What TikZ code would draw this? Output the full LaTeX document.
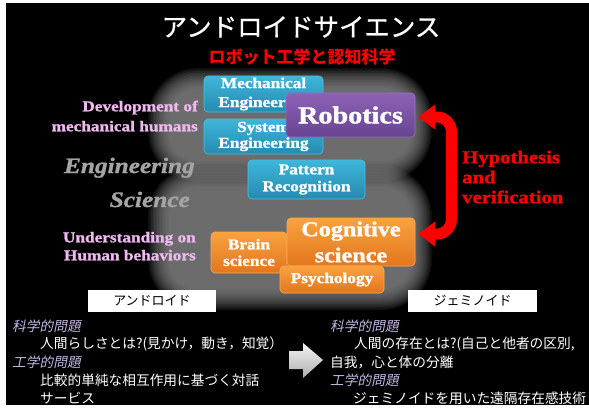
\documentclass[tikz,border=0pt]{standalone}
\usepackage{fontspec}
\setmainfont{Liberation Serif}[FakeStretch=1.15, BoldFeatures={FakeBold=1.3}, BoldItalicFeatures={FakeBold=1.3}]
\newfontfamily\jp{Noto Sans CJK JP}
\newfontfamily\jpt{Noto Sans CJK JP}[FakeBold=0.8]
\newfontfamily\jpit{Noto Sans CJK JP}[FakeSlant=0.2]
\usetikzlibrary{arrows.meta}
\definecolor{tealtop}{RGB}{62,182,218}
\definecolor{tealbot}{RGB}{38,138,176}
\definecolor{tealedge}{RGB}{80,190,225}
\definecolor{purtop}{RGB}{142,98,182}
\definecolor{purbot}{RGB}{102,68,144}
\definecolor{puredge}{RGB}{150,110,190}
\definecolor{orgtop}{RGB}{250,162,62}
\definecolor{orgbot}{RGB}{226,118,30}
\definecolor{orgedge}{RGB}{250,170,80}
\definecolor{pinklab}{RGB}{240,184,240}
\definecolor{lav}{RGB}{196,182,228}
\definecolor{glowc}{RGB}{140,140,140}
\definecolor{greylab}{RGB}{165,165,165}
\begin{document}
\begin{tikzpicture}[x=1pt,y=-1pt,
  box/.style={rounded corners=4pt, inner sep=0pt, align=center, text=white,
    font=\bfseries\fontsize{15}{17}\selectfont},
  tealbox/.style={box, top color=tealtop, bottom color=tealbot, draw=tealedge, line width=0.6pt},
  purbox/.style={box, top color=purtop, bottom color=purbot, draw=puredge, line width=0.6pt},
  orgbox/.style={box, top color=orgtop, bottom color=orgbot, draw=orgedge, line width=0.6pt},
  pinktext/.style={inner sep=0pt, align=right, text=pinklab, font=\bfseries\fontsize{15}{20}\selectfont},
  greytext/.style={inner sep=0pt, text=greylab, font=\bfseries\itshape\fontsize{22}{24}\selectfont},
  labbox/.style={fill=white, inner sep=0pt, minimum height=22pt, text=black, font=\jp\fontsize{13}{15}\selectfont},
  qtext/.style={inner sep=0pt, anchor=west, text=lav, font=\jpit\fontsize{13.7}{16}\selectfont},
  btext/.style={inner sep=0pt, anchor=west, text=white, font=\jp\fontsize{13.7}{16}\selectfont},
  redarrow/.style={line width=11pt, red, rounded corners=14pt,
    {Triangle[width=24pt,length=17pt]}-{Triangle[width=24pt,length=17pt]}}
]
\useasboundingbox (0,0) rectangle (589,407);
\fill[white] (0,0) rectangle (589,407);
\fill[black] (6,3) rectangle (589,405);

% soft glow
\foreach \i in {0,...,14} {
  \pgfmathsetmacro\rr{50-1.5*\i}
  \fill[glowc, fill opacity=0.1, rounded corners=\rr pt]
    ({148+1.5*\i},{68+1.5*\i}) rectangle ({432-1.5*\i},{182-1.5*\i});
  \fill[glowc, fill opacity=0.1, rounded corners=\rr pt]
    ({148+1.5*\i},{166+1.5*\i}) rectangle ({432-1.5*\i},{310-1.5*\i});
}

% titles
\node[inner sep=0pt, text=white, font=\jpt\fontsize{25.5}{28}\selectfont] (title) at (301,27) {アンドロイドサイエンス};
\node[inner sep=0pt, text=red, font=\jp\bfseries\fontsize{17}{19}\selectfont] (subtitle) at (302,57) {ロボット工学と認知科学};

% left labels
\node[pinktext, anchor=north east] (dev) at (198,100.5) {Development of\\mechanical humans};
\node[greytext, anchor=base east] (eng) at (195,173) {Engineering};
\node[greytext, anchor=base east] (sci) at (190,207) {Science};
\node[pinktext, anchor=north east, font=\bfseries\fontsize{15}{18}\selectfont] (und) at (196,231.7) {Understanding on\\Human behaviors};

% engineering boxes
\node[tealbox, minimum width=119pt, minimum height=36pt, font=\bfseries\fontsize{15}{19}\selectfont] (mech) at (263.5,94) {Mechanical\\Engineering};
\node[tealbox, minimum width=119pt, minimum height=35pt, font=\bfseries\fontsize{15}{16}\selectfont] (sys) at (263.5,136.5) {System\\Engineering};
\node[tealbox, minimum width=117pt, minimum height=39pt] (pat) at (306.5,179.5) {Pattern\\Recognition};
\node[purbox, minimum width=129pt, minimum height=44pt, font=\bfseries\fontsize{24.5}{26}\selectfont] (rob) at (350.5,115) {Robotics};

% science boxes
\node[orgbox, minimum width=76pt, minimum height=41pt, font=\bfseries\fontsize{15}{16.5}\selectfont] (brain) at (249,252.5) {Brain\\science};
\node[orgbox, minimum width=128pt, minimum height=48pt, font=\bfseries\fontsize{21}{26}\selectfont] (cog) at (351,242) {Cognitive\\science};
\node[orgbox, minimum width=104pt, minimum height=27pt] (psy) at (332,279.5) {Psychology};

% hypothesis arrow
\draw[redarrow] ([shift={(3pt,-2pt)}]rob.east) -- ++(33pt,0pt) -- ++(0pt,-117pt) -- ([shift={(3pt,8pt)}]cog.east);
\node[inner sep=0pt, anchor=north west, align=left, text=red, font=\bfseries\fontsize{18}{20}\selectfont] (hyp) at (462,150.5) {Hypothesis\\and\\verification};

% bottom part
\node[labbox, minimum width=128pt] (andl) at (152,301) {アンドロイド};
\node[labbox, minimum width=129pt] (geml) at (472.5,301) {ジェミノイド};

\node[qtext] (lq1) at (12,326) {科学的問題};
\node[btext] (lt1) at (40,344) {人間らしさとは?(見かけ，動き，知覚）};
\node[qtext] (lq2) at (12,362) {工学的問題};
\node[btext] (lt2) at (40,380) {比較的単純な相互作用に基づく対話};
\node[btext] (lt3) at (40,398) {サービス};

\node[qtext] (rq1) at (330,326) {科学的問題};
\node[btext] (rt1) at (354,344) {人間の存在とは?(自己と他者の区別,};
\node[btext] (rt2) at (330,362) {自我，心と体の分離};
\node[qtext] (rq2) at (330,380) {工学的問題};
\node[btext] (rt3) at (353,398) {ジェミノイドを用いた遠隔存在感技術};

\shade[top color=white!96!black, bottom color=black!32]
  (289,351) -- (303,351) -- (303,343) -- (323,360) -- (303,378) -- (303,369) -- (289,369) -- cycle;
\end{tikzpicture}
\end{document}
